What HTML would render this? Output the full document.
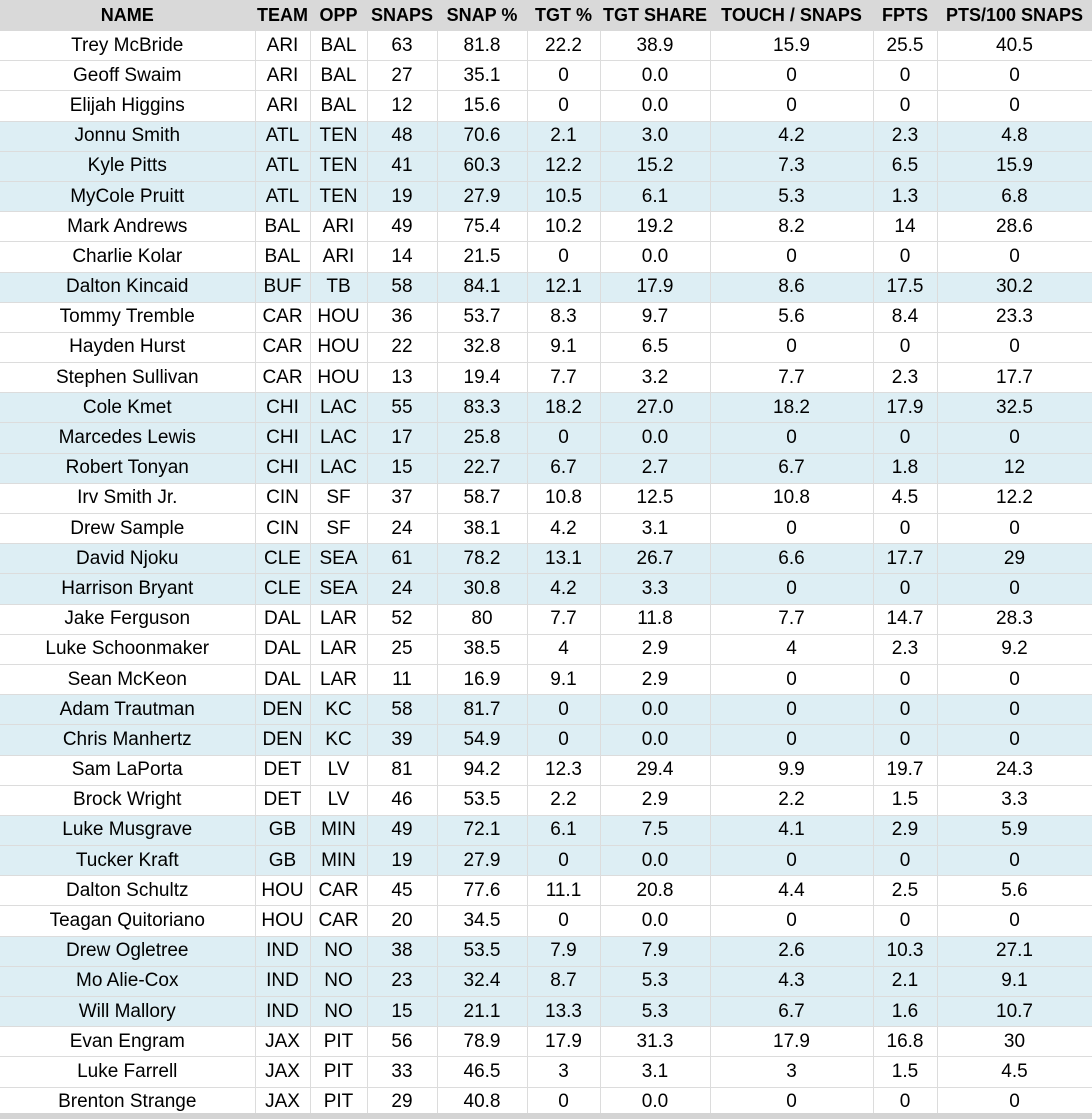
<!DOCTYPE html>
<html><head><style>
body{margin:0;background:#fff;width:1092px;height:1119px;overflow:hidden;font-family:"Liberation Sans",sans-serif;}
table{border-collapse:collapse;table-layout:fixed;width:1092px;position:absolute;top:0;left:0;}
td,th{text-align:center;padding:0;border-right:1px solid #dcdcdc;border-bottom:1px solid #dcdcdc;font-size:19px;color:#000;white-space:nowrap;overflow:hidden;}
th{background:#d9d9d9;height:30px;font-weight:bold;font-size:18px;border-color:#d9d9d9;}
td{height:29.2px;}
tr.b td{background:#ddeef4;}
.bot{position:absolute;left:0;top:1113px;width:1092px;height:6px;background:#d4d4d4;}
</style></head><body>
<table>
<colgroup><col style="width:255px"><col style="width:55px"><col style="width:57px"><col style="width:70px"><col style="width:90px"><col style="width:73px"><col style="width:110px"><col style="width:163px"><col style="width:64px"><col style="width:155px"></colgroup>
<tr><th>NAME</th><th>TEAM</th><th>OPP</th><th>SNAPS</th><th>SNAP %</th><th>TGT %</th><th>TGT SHARE</th><th>TOUCH / SNAPS</th><th>FPTS</th><th>PTS/100 SNAPS</th></tr>
<tr><td>Trey McBride</td><td>ARI</td><td>BAL</td><td>63</td><td>81.8</td><td>22.2</td><td>38.9</td><td>15.9</td><td>25.5</td><td>40.5</td></tr>
<tr><td>Geoff Swaim</td><td>ARI</td><td>BAL</td><td>27</td><td>35.1</td><td>0</td><td>0.0</td><td>0</td><td>0</td><td>0</td></tr>
<tr><td>Elijah Higgins</td><td>ARI</td><td>BAL</td><td>12</td><td>15.6</td><td>0</td><td>0.0</td><td>0</td><td>0</td><td>0</td></tr>
<tr class="b"><td>Jonnu Smith</td><td>ATL</td><td>TEN</td><td>48</td><td>70.6</td><td>2.1</td><td>3.0</td><td>4.2</td><td>2.3</td><td>4.8</td></tr>
<tr class="b"><td>Kyle Pitts</td><td>ATL</td><td>TEN</td><td>41</td><td>60.3</td><td>12.2</td><td>15.2</td><td>7.3</td><td>6.5</td><td>15.9</td></tr>
<tr class="b"><td>MyCole Pruitt</td><td>ATL</td><td>TEN</td><td>19</td><td>27.9</td><td>10.5</td><td>6.1</td><td>5.3</td><td>1.3</td><td>6.8</td></tr>
<tr><td>Mark Andrews</td><td>BAL</td><td>ARI</td><td>49</td><td>75.4</td><td>10.2</td><td>19.2</td><td>8.2</td><td>14</td><td>28.6</td></tr>
<tr><td>Charlie Kolar</td><td>BAL</td><td>ARI</td><td>14</td><td>21.5</td><td>0</td><td>0.0</td><td>0</td><td>0</td><td>0</td></tr>
<tr class="b"><td>Dalton Kincaid</td><td>BUF</td><td>TB</td><td>58</td><td>84.1</td><td>12.1</td><td>17.9</td><td>8.6</td><td>17.5</td><td>30.2</td></tr>
<tr><td>Tommy Tremble</td><td>CAR</td><td>HOU</td><td>36</td><td>53.7</td><td>8.3</td><td>9.7</td><td>5.6</td><td>8.4</td><td>23.3</td></tr>
<tr><td>Hayden Hurst</td><td>CAR</td><td>HOU</td><td>22</td><td>32.8</td><td>9.1</td><td>6.5</td><td>0</td><td>0</td><td>0</td></tr>
<tr><td>Stephen Sullivan</td><td>CAR</td><td>HOU</td><td>13</td><td>19.4</td><td>7.7</td><td>3.2</td><td>7.7</td><td>2.3</td><td>17.7</td></tr>
<tr class="b"><td>Cole Kmet</td><td>CHI</td><td>LAC</td><td>55</td><td>83.3</td><td>18.2</td><td>27.0</td><td>18.2</td><td>17.9</td><td>32.5</td></tr>
<tr class="b"><td>Marcedes Lewis</td><td>CHI</td><td>LAC</td><td>17</td><td>25.8</td><td>0</td><td>0.0</td><td>0</td><td>0</td><td>0</td></tr>
<tr class="b"><td>Robert Tonyan</td><td>CHI</td><td>LAC</td><td>15</td><td>22.7</td><td>6.7</td><td>2.7</td><td>6.7</td><td>1.8</td><td>12</td></tr>
<tr><td>Irv Smith Jr.</td><td>CIN</td><td>SF</td><td>37</td><td>58.7</td><td>10.8</td><td>12.5</td><td>10.8</td><td>4.5</td><td>12.2</td></tr>
<tr><td>Drew Sample</td><td>CIN</td><td>SF</td><td>24</td><td>38.1</td><td>4.2</td><td>3.1</td><td>0</td><td>0</td><td>0</td></tr>
<tr class="b"><td>David Njoku</td><td>CLE</td><td>SEA</td><td>61</td><td>78.2</td><td>13.1</td><td>26.7</td><td>6.6</td><td>17.7</td><td>29</td></tr>
<tr class="b"><td>Harrison Bryant</td><td>CLE</td><td>SEA</td><td>24</td><td>30.8</td><td>4.2</td><td>3.3</td><td>0</td><td>0</td><td>0</td></tr>
<tr><td>Jake Ferguson</td><td>DAL</td><td>LAR</td><td>52</td><td>80</td><td>7.7</td><td>11.8</td><td>7.7</td><td>14.7</td><td>28.3</td></tr>
<tr><td>Luke Schoonmaker</td><td>DAL</td><td>LAR</td><td>25</td><td>38.5</td><td>4</td><td>2.9</td><td>4</td><td>2.3</td><td>9.2</td></tr>
<tr><td>Sean McKeon</td><td>DAL</td><td>LAR</td><td>11</td><td>16.9</td><td>9.1</td><td>2.9</td><td>0</td><td>0</td><td>0</td></tr>
<tr class="b"><td>Adam Trautman</td><td>DEN</td><td>KC</td><td>58</td><td>81.7</td><td>0</td><td>0.0</td><td>0</td><td>0</td><td>0</td></tr>
<tr class="b"><td>Chris Manhertz</td><td>DEN</td><td>KC</td><td>39</td><td>54.9</td><td>0</td><td>0.0</td><td>0</td><td>0</td><td>0</td></tr>
<tr><td>Sam LaPorta</td><td>DET</td><td>LV</td><td>81</td><td>94.2</td><td>12.3</td><td>29.4</td><td>9.9</td><td>19.7</td><td>24.3</td></tr>
<tr><td>Brock Wright</td><td>DET</td><td>LV</td><td>46</td><td>53.5</td><td>2.2</td><td>2.9</td><td>2.2</td><td>1.5</td><td>3.3</td></tr>
<tr class="b"><td>Luke Musgrave</td><td>GB</td><td>MIN</td><td>49</td><td>72.1</td><td>6.1</td><td>7.5</td><td>4.1</td><td>2.9</td><td>5.9</td></tr>
<tr class="b"><td>Tucker Kraft</td><td>GB</td><td>MIN</td><td>19</td><td>27.9</td><td>0</td><td>0.0</td><td>0</td><td>0</td><td>0</td></tr>
<tr><td>Dalton Schultz</td><td>HOU</td><td>CAR</td><td>45</td><td>77.6</td><td>11.1</td><td>20.8</td><td>4.4</td><td>2.5</td><td>5.6</td></tr>
<tr><td>Teagan Quitoriano</td><td>HOU</td><td>CAR</td><td>20</td><td>34.5</td><td>0</td><td>0.0</td><td>0</td><td>0</td><td>0</td></tr>
<tr class="b"><td>Drew Ogletree</td><td>IND</td><td>NO</td><td>38</td><td>53.5</td><td>7.9</td><td>7.9</td><td>2.6</td><td>10.3</td><td>27.1</td></tr>
<tr class="b"><td>Mo Alie-Cox</td><td>IND</td><td>NO</td><td>23</td><td>32.4</td><td>8.7</td><td>5.3</td><td>4.3</td><td>2.1</td><td>9.1</td></tr>
<tr class="b"><td>Will Mallory</td><td>IND</td><td>NO</td><td>15</td><td>21.1</td><td>13.3</td><td>5.3</td><td>6.7</td><td>1.6</td><td>10.7</td></tr>
<tr><td>Evan Engram</td><td>JAX</td><td>PIT</td><td>56</td><td>78.9</td><td>17.9</td><td>31.3</td><td>17.9</td><td>16.8</td><td>30</td></tr>
<tr><td>Luke Farrell</td><td>JAX</td><td>PIT</td><td>33</td><td>46.5</td><td>3</td><td>3.1</td><td>3</td><td>1.5</td><td>4.5</td></tr>
<tr><td>Brenton Strange</td><td>JAX</td><td>PIT</td><td>29</td><td>40.8</td><td>0</td><td>0.0</td><td>0</td><td>0</td><td>0</td></tr>
</table>
<div class="bot"></div>
</body></html>
